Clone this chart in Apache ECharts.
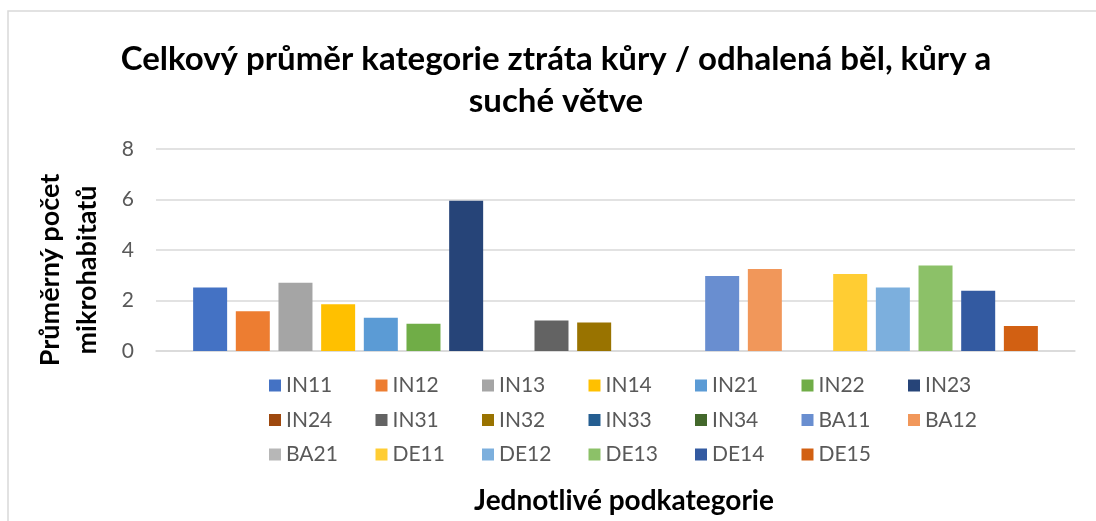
<!DOCTYPE html>
<html>
<head>
<meta charset="utf-8">
<title>Celkový průměr kategorie ztráta kůry</title>
<script src="https://cdn.jsdelivr.net/npm/echarts@6/dist/echarts.min.js"></script>
<style>
  html, body { margin: 0; padding: 0; background: #ffffff; }
  #chart { width: 1096px; height: 521px; }
</style>
</head>
<body>
<div id="chart"></div>
<script>
const seriesNames = ['IN11', 'IN12', 'IN13', 'IN14', 'IN21', 'IN22', 'IN23', 'IN24', 'IN31', 'IN32',
  'IN33', 'IN34', 'BA11', 'BA12', 'BA21', 'DE11', 'DE12', 'DE13', 'DE14', 'DE15']
const seriesValues = [2.51, 1.57, 2.7, 1.85, 1.32, 1.08, 5.95, 0, 1.21, 1.13,
  0, 0, 2.97, 3.25, 0, 3.05, 2.51, 3.39, 2.39, 0.99]
const colorList = ['#4472C4', '#ED7D31', '#A5A5A5', '#FFC000', '#5B9BD5', '#70AD47', '#264478', '#9E480E', '#636363', '#997300',
  '#255E91', '#43682B', '#698ED0', '#F1975A', '#B7B7B7', '#FFCD33', '#7CAFDD', '#8CC168', '#335AA1', '#D26012']
const categories = ['']
const yTicks = { min: 0, max: 8, interval: 2 }

// legend is laid out like Excel: 7 equal columns, wrapping into rows
const legendCols = 7
const legendLeft = 269
const legendTop = 375
const colWidth = 106.5
const rowHeight = 34.5

const chart = echarts.init(document.getElementById('chart'))

const series = seriesNames.map((name, index) => {
  return {
    name: name,
    type: 'bar',
    barWidth: 34,
    barGap: '25.5%',
    itemStyle: {
      color: colorList[index]
    },
    data: [seriesValues[index]]
  }
})

const legend = seriesNames.map((name, index) => {
  return {
    left: legendLeft + (index % legendCols) * colWidth,
    top: legendTop + Math.floor(index / legendCols) * rowHeight,
    padding: 0,
    itemWidth: 12,
    itemHeight: 12,
    icon: 'rect',
    textStyle: {
      fontFamily: 'Lato',
      fontSize: 21,
      color: '#595959'
    },
    data: [name]
  }
})

chart.setOption({
  backgroundColor: '#ffffff',
  animation: false,
  color: colorList,
  title: [{
    text: 'Celkový průměr kategorie ztráta kůry / odhalená běl, kůry a\nsuché větve',
    left: 551,
    top: 33,
    textAlign: 'center',
    textStyle: {
      fontFamily: 'Lato',
      fontWeight: 'bold',
      fontSize: 33,
      lineHeight: 42,
      color: '#000000'
    }
  }, {
    text: 'Jednotlivé podkategorie',
    left: 619,
    top: 480,
    textAlign: 'center',
    textStyle: {
      fontFamily: 'Lato',
      fontWeight: 'bold',
      fontSize: 28,
      lineHeight: 32,
      color: '#000000'
    }
  }],
  legend,
  grid: {
    left: 156,
    right: 21,
    top: 149,
    height: 202,
    containLabel: false
  },
  xAxis: {
    type: 'category',
    data: categories,
    axisTick: { show: false },
    axisLabel: { show: false },
    axisLine: {
      lineStyle: { color: '#D9D9D9', width: 1.5 }
    }
  },
  yAxis: {
    type: 'value',
    min: yTicks.min,
    max: yTicks.max,
    interval: yTicks.interval,
    axisLine: { show: false },
    axisTick: { show: false },
    axisLabel: {
      margin: 22,
      fontFamily: 'Lato',
      fontSize: 21,
      color: '#595959'
    },
    splitLine: {
      lineStyle: { color: '#D9D9D9', width: 1.5 }
    }
  },
  graphic: [{
    type: 'rect',
    shape: { x: 8, y: 11, width: 1200, height: 600 },
    style: { fill: 'none', stroke: '#D9D9D9', lineWidth: 1.5 },
    silent: true
  }, {
    type: 'text',
    x: 69,
    y: 270,
    rotation: Math.PI / 2,
    style: {
      text: 'Průměrný počet\nmikrohabitatů',
      fontFamily: 'Lato',
      fontWeight: 'bold',
      fontSize: 27,
      lineHeight: 37,
      align: 'center',
      verticalAlign: 'middle',
      fill: '#000000'
    }
  }],
  series
})
</script>
</body>
</html>
